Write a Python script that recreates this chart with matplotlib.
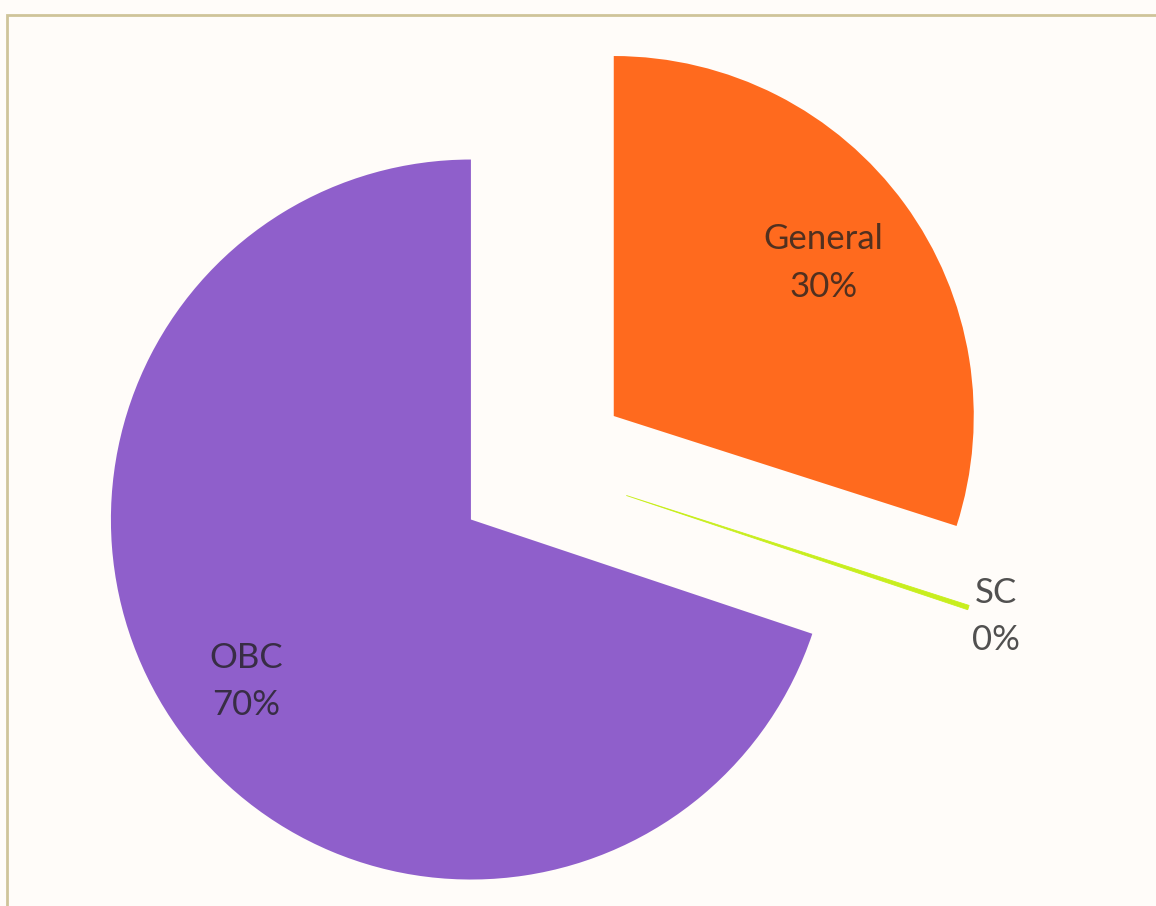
import numpy as np
import matplotlib
matplotlib.use("Agg")
import matplotlib.pyplot as plt
from matplotlib.patches import Rectangle

categories = ["General", "SC", "OBC"]
shares = [30, 0.2, 70]
colors = ["#ff6a1e", "#c8ee1e", "#8f5fcb"]
label_dist = [0.72, 1.08, 0.77]

plt.rcParams["font.family"] = ["Lato", "DejaVu Sans"]

fig = plt.figure(figsize=(11.56, 9.06), dpi=100)
fig.patch.set_facecolor("#fffcf9")

# thin frame around the chart area
fig.patches.append(Rectangle((7 / 1156, -0.01), 1.0, 1 - 15 / 906 + 0.01,
                             transform=fig.transFigure, fill=False,
                             edgecolor="#cfc49a", linewidth=2))

ax = fig.add_axes([0, 0, 1, 1])
ax.set_facecolor("none")

wedges, _ = ax.pie(shares, colors=colors, startangle=90, counterclock=False,
                   explode=[0.245] * 3, radius=1.0,
                   wedgeprops={"linewidth": 0})

# tiny SC sliver, slightly outlined so it stays visible
wedges[1].set_edgecolor(colors[1])
wedges[1].set_linewidth(0.6)

total = sum(shares)
for w, name, val, d in zip(wedges, categories, shares, label_dist):
    mid = np.deg2rad((w.theta1 + w.theta2) / 2)
    cx, cy = w.center
    x = cx + d * w.r * np.cos(mid)
    y = cy + d * w.r * np.sin(mid)
    ax.text(x, y, f"{name}\n{val / total * 100:.0f}%", ha="center", va="center",
            fontsize=25, color="#202020", alpha=0.78, linespacing=1.6)

ax.set_xlim(-542.5 / 360, (1156 - 542.5) / 360)
ax.set_ylim(-(906 - 468) / 360, 468 / 360)
ax.axis("off")

plt.savefig("out.png", dpi=100, facecolor=fig.get_facecolor())
